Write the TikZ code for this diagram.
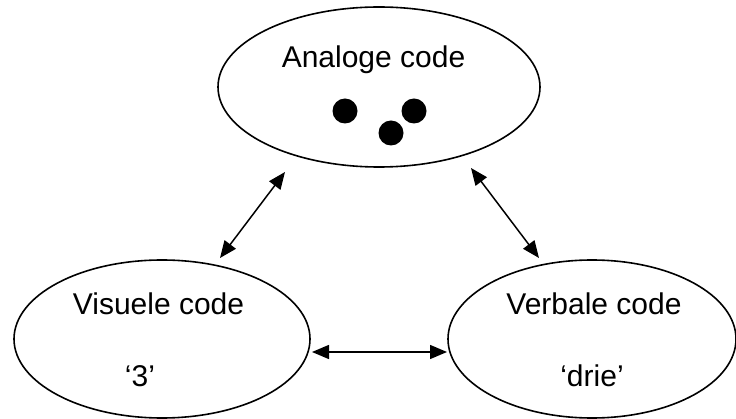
\documentclass[tikz,border=0pt]{standalone}
\usepackage{fontspec}
\setmainfont{Liberation Sans}
\usetikzlibrary{shapes.geometric,arrows.meta}

\tikzset{
  codebox/.style={ellipse, draw=black, line width=1.6pt, inner sep=0pt},
  label30/.style={anchor=base, inner sep=0pt, font=\fontsize{30}{36}\selectfont},
  dot/.style={circle, fill=black, minimum size=25pt, inner sep=0pt},
  link/.style={line width=1.5pt,
    {Triangle[length=17pt,width=14pt]}-{Triangle[length=17pt,width=14pt]}}
}

\begin{document}
\begin{tikzpicture}[x=1pt,y=-1pt]
\useasboundingbox (0,0) rectangle (736,419);

% the three codes
\node[codebox, minimum width=322pt, minimum height=160pt] (analog) at (379,87) {};
\node[codebox, minimum width=296pt, minimum height=158pt] (visual) at (162,339) {};
\node[codebox, minimum width=288pt, minimum height=158pt] (verbal) at (592,339) {};

% texts
\node[label30] (tanalog) at (373.5,68) {Analoge code};
\node[label30] (tvisual) at (158.5,315) {Visuele code};
\node[label30] (tverbal) at (594,315) {Verbale code};
\node[label30] (tthree) at (140,387) {‘3’};
\node[label30] (tdrie) at (592,387) {‘drie’};

% three dots
\node[dot] (d1) at (345,111) {};
\node[dot] (d2) at (414,111) {};
\node[dot] (d3) at (391,133) {};

% connector ends
\coordinate (al) at (285,172);
\coordinate (vl) at (220,258);
\coordinate (ar) at (471,168);
\coordinate (vr) at (539,258);
\coordinate (hl) at (312,352);
\coordinate (hr) at (447,352);

\draw[link] (al) -- (vl);
\draw[link] (ar) -- (vr);
\draw[link] (hl) -- (hr);
\end{tikzpicture}
\end{document}
